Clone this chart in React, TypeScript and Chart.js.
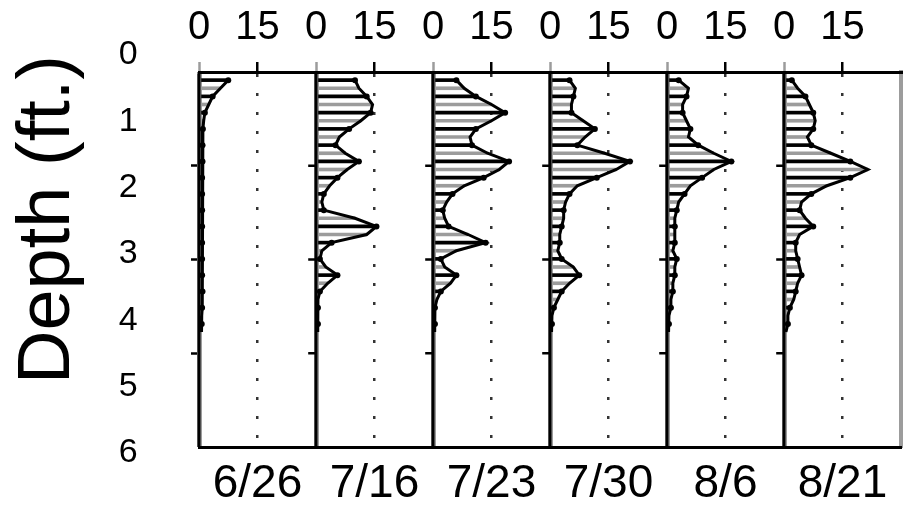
import { useEffect, useRef } from 'react';
import { Chart, registerables } from 'chart.js';

Chart.register(...registerables);

const FONT = "'Liberation Sans', Arial, Helvetica, sans-serif";

// Panel (date) labels
const DATES = ['6/26', '7/16', '7/23', '7/30', '8/6', '8/21'];
// Depth axis tick labels (ft)
const DEPTH_LABELS = ['0', '1', '2', '3', '4', '5', '6'];
// Per-panel x ticks (values) and their labels
const X_TICKS = [0, 15, 30];
const X_TICK_LABELS = ['0', '15', ''];
// Frame depth ticks and frame extents (ft)
const FRAME_DEPTH_TICKS = [1.5, 3, 4.5];
const FRAME_DEPTHS = [0, 6];

// Sample depths (ft)
const DEPTHS = [
  0.13, 0.26, 0.39, 0.52, 0.65, 0.78, 0.91, 1.04, 1.17, 1.3, 1.43, 1.56, 1.69, 1.82, 1.95, 2.08,
  2.21, 2.34, 2.47, 2.6, 2.73, 2.86, 2.99, 3.12, 3.25, 3.38, 3.51, 3.64, 3.77, 3.9, 4.03, 4.16,
];

// Profile values for each date
const V_0626 = [7.5, 5.5, 3.5, 2.5, 1.5, 1.2, 1, 1, 0.9, 0.8, 0.9, 0.8, 0.8, 0.9, 0.8, 0.8, 0.8, 0.9, 0.8, 0.8, 0.8, 0.9, 0.8, 0.8, 0.8, 0.8, 0.9, 0.8, 0.8, 0.7, 0.7, 0.6];
const V_0716 = [10, 11, 13, 14.5, 14, 11.5, 8.5, 6, 5, 7.5, 11, 8, 5.5, 3.5, 2, 1.5, 2, 10, 15.5, 13, 4, 1.5, 1, 2.5, 5.5, 3, 1, 0.5, 0.5, 0.5, 0.5, 0.3];
const V_0723 = [6, 8, 11, 15, 18.5, 15, 11, 9.5, 10, 14, 19.5, 17, 13, 8, 5, 3.5, 2.5, 3, 4, 9, 13.5, 6, 2, 3, 6, 4.5, 2, 1, 0.5, 0.5, 0.5, 0.3];
const V_0730 = [5, 6.5, 6, 5.5, 5.5, 8.5, 11.5, 9, 7, 14, 20.5, 17, 12, 7, 5, 4, 3.5, 3.5, 3, 2.5, 2.5, 2, 3, 6, 7.5, 5, 3, 2, 1, 0.5, 0.5, 0.3];
const V_0806 = [3, 5.5, 5, 4, 4, 5, 6, 5.5, 8, 12, 16.5, 12, 9, 6, 4.5, 3, 2.5, 2, 2, 2, 2, 1.5, 2.5, 2, 2, 1.5, 1.5, 1, 1, 0.5, 0.5, 0.3];
const V_0821 = [2, 3.5, 5.5, 6.5, 7.5, 8, 7.5, 6, 7, 12, 17, 21.5, 17, 11, 7, 4.5, 4, 5.5, 7.5, 4, 3, 3, 3.5, 4, 4.5, 3.5, 3, 2.5, 1.5, 1, 1, 0.5];

const SERIES = [V_0626, V_0716, V_0723, V_0730, V_0806, V_0821];

const BLACK = '#000000';
const GRAY = '#9c9c9c';
const TICK_UNITS = 2; // length of frame tick marks, in x units

export default function App() {
  const labelRef = useRef<HTMLCanvasElement>(null);
  const mainRef = useRef<HTMLCanvasElement>(null);

  useEffect(() => {
    Chart.defaults.font.family = FONT;

    const labelChart = new Chart(labelRef.current as HTMLCanvasElement, {
      type: 'scatter',
      data: { datasets: [] },
      options: {
        responsive: false,
        animation: false,
        layout: { padding: { top: 55, bottom: 52, left: 0, right: 0 }, autoPadding: false },
        plugins: { legend: { display: false }, tooltip: { enabled: false } },
        scales: {
          x: { display: false },
          y: {
            type: 'category',
            labels: DEPTH_LABELS,
            offset: false,
            ticks: { font: { size: 34, family: FONT }, color: BLACK, padding: 3, autoSkip: false },
            grid: { display: false, drawTicks: false },
            border: { display: false },
            title: {
              display: true,
              text: 'Depth (ft.)',
              align: 'end',
              color: BLACK,
              font: { size: 74, family: FONT },
              padding: { top: 4, bottom: 23 },
            },
          },
        },
      },
    } as any);

    const datasets: any[] = [];
    const scales: any = {
      y: {
        type: 'linear',
        position: 'left',
        min: FRAME_DEPTHS[0],
        max: FRAME_DEPTHS[1],
        reverse: true,
        offset: false,
        afterBuildTicks: (ax: any) => {
          ax.ticks = FRAME_DEPTH_TICKS.map((v) => ({ value: v }));
        },
        ticks: { display: false },
        grid: { offset: false, drawOnChartArea: false, drawTicks: true, tickLength: 8, tickColor: BLACK, tickWidth: 2.5 },
        border: { display: true, color: GRAY, width: 3 },
      },
      yr: {
        type: 'linear',
        position: 'right',
        min: FRAME_DEPTHS[0],
        max: FRAME_DEPTHS[1],
        reverse: true,
        offset: false,
        ticks: { display: false },
        grid: { display: false, drawTicks: false },
        border: { display: true, color: GRAY, width: 4 },
      },
    };

    SERIES.forEach((vals, i) => {
      const xid = 'x' + i;
      const bid = 'b' + i;
      scales[xid] = {
        type: 'linear',
        axis: 'x',
        position: 'top',
        stack: 'top',
        stackWeight: 1,
        weight: SERIES.length - i,
        min: X_TICKS[0],
        max: X_TICKS[X_TICKS.length - 1],
        offset: false,
        afterBuildTicks: (ax: any) => {
          ax.ticks = X_TICKS.map((v) => ({ value: v }));
        },
        ticks: {
          font: { size: 40, family: FONT, lineHeight: 1.6 },
          color: BLACK,
          padding: 2,
          autoSkip: false,
          maxRotation: 0,
          minRotation: 0,
          callback: (_v: any, idx: number) => X_TICK_LABELS[idx],
        },
        grid: {
          offset: false,
          drawOnChartArea: true,
          drawTicks: true,
          tickLength: 10,
          color: (c: any) => {
            const v = c.tick ? c.tick.value : 0;
            if (v === X_TICKS[0]) return GRAY;
            if (v === X_TICKS[1]) return '#333333';
            return 'rgba(0,0,0,0)';
          },
          lineWidth: (c: any) => {
            const v = c.tick ? c.tick.value : 0;
            if (v === X_TICKS[0]) return 5;
            if (v === X_TICKS[1]) return 2.5;
            return 0;
          },
          tickColor: (c: any) => {
            const v = c.tick ? c.tick.value : 0;
            if (v === X_TICKS[0]) return GRAY;
            if (v === X_TICKS[1]) return BLACK;
            return 'rgba(0,0,0,0)';
          },
          tickWidth: 2.5,
        },
        border: {
          display: true,
          color: BLACK,
          width: 3,
          dash: (c: any) => (c.tick && c.tick.value === X_TICKS[1] ? [3, 16] : []),
        },
      };
      scales[bid] = {
        type: 'linear',
        axis: 'x',
        position: 'bottom',
        stack: 'bottom',
        stackWeight: 1,
        weight: i,
        min: X_TICKS[0],
        max: X_TICKS[X_TICKS.length - 1],
        ticks: { display: false },
        grid: { display: false, drawTicks: false },
        border: { display: true, color: BLACK, width: 3 },
        title: {
          display: true,
          text: DATES[i],
          color: BLACK,
          font: { size: 46, family: FONT, lineHeight: 0.9 },
          padding: { top: 16.6, bottom: 0 },
        },
      };

      const pts = DEPTHS.map((d, k) => ({ x: vals[k], y: d }));

      datasets.push({
        type: 'bar',
        label: DATES[i] + ' bars',
        indexAxis: 'y',
        xAxisID: xid,
        yAxisID: 'y',
        data: pts,
        backgroundColor: DEPTHS.map((_d, k) => (k % 2 === 0 ? BLACK : GRAY)),
        borderWidth: 0,
        barThickness: 3,
        grouped: false,
        clip: false,
        order: 3,
      });
      datasets.push({
        type: 'line',
        label: DATES[i] + ' zero',
        xAxisID: xid,
        yAxisID: 'y',
        data: FRAME_DEPTHS.map((d) => ({ x: X_TICKS[0], y: d })),
        borderColor: BLACK,
        borderWidth: 3,
        pointRadius: 0,
        clip: false,
        order: 2,
      });
      datasets.push({
        type: 'line',
        label: DATES[i],
        xAxisID: xid,
        yAxisID: 'y',
        data: pts,
        borderColor: BLACK,
        borderWidth: 3,
        tension: 0,
        pointRadius: DEPTHS.map((_d, k) => (k % 2 === 0 ? 3 : 0)),
        pointBackgroundColor: BLACK,
        pointBorderWidth: 0,
        clip: false,
        order: 1,
      });
      if (i > 0) {
        const tickPts: any[] = [];
        FRAME_DEPTH_TICKS.forEach((d) => {
          tickPts.push({ x: X_TICKS[0] - TICK_UNITS, y: d });
          tickPts.push({ x: X_TICKS[0], y: d });
          tickPts.push({ x: null, y: null });
        });
        datasets.push({
          type: 'line',
          label: DATES[i] + ' frame ticks',
          xAxisID: xid,
          yAxisID: 'y',
          data: tickPts,
          borderColor: BLACK,
          borderWidth: 2.5,
          pointRadius: 0,
          spanGaps: false,
          clip: false,
          order: 0,
        });
      }
    });

    const mainChart = new Chart(mainRef.current as HTMLCanvasElement, {
      type: 'bar',
      data: { datasets },
      options: {
        responsive: false,
        animation: false,
        layout: { padding: { top: -6, bottom: 0, left: 191, right: 2 }, autoPadding: false },
        plugins: { legend: { display: false }, tooltip: { enabled: false } },
        scales,
      },
    } as any);

    return () => {
      labelChart.destroy();
      mainChart.destroy();
    };
  }, []);

  return (
    <div style={{ position: 'absolute', left: 0, top: 0, width: 903, height: 505, background: '#ffffff' }}>
      <canvas ref={mainRef} width={903} height={505} style={{ position: 'absolute', left: 0, top: 0 }} />
      <canvas ref={labelRef} width={300} height={505} style={{ position: 'absolute', left: 0, top: 0 }} />
    </div>
  );
}
